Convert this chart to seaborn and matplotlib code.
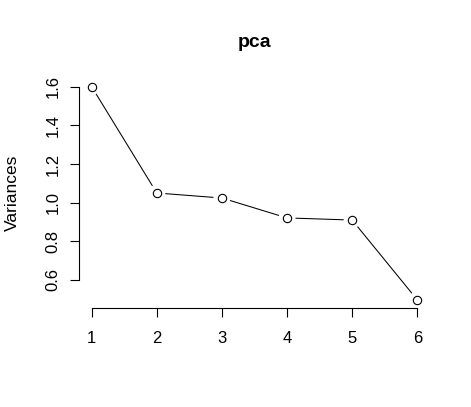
import matplotlib
matplotlib.use("Agg")
import matplotlib.pyplot as plt
import seaborn as sns
import pandas as pd

# ----------------------------------------------------------
# Data (scree plot of a PCA)
# ----------------------------------------------------------

components = [1, 2, 3, 4, 5, 6]
variances = [1.60, 1.05, 1.024, 0.921, 0.910, 0.497]
y_ticks = [0.6, 0.8, 1.0, 1.2, 1.4, 1.6]

df = pd.DataFrame({"component": components, "variance": variances})

# ----------------------------------------------------------
# Style
# ----------------------------------------------------------

sns.set_theme(style="ticks", rc={
    "text.color": "black",
    "axes.labelcolor": "black",
    "xtick.color": "black",
    "ytick.color": "black",
    "axes.edgecolor": "black",
})
plt.rcParams["font.family"] = ["Liberation Sans", "DejaVu Sans"]

fig = plt.figure(figsize=(4.71, 4.07), dpi=100)
ax = fig.add_axes([0.167, 0.2423, 0.7466, 0.5656])

# line, white gaps round the points, then open circles
sns.lineplot(data=df, x="component", y="variance", color="black",
             linewidth=0.75, ax=ax, zorder=2)
sns.scatterplot(data=df, x="component", y="variance", s=150, color="white",
                edgecolor="none", ax=ax, zorder=2.2)
sns.scatterplot(data=df, x="component", y="variance", s=36, color="white",
                edgecolor="black", linewidth=0.8, ax=ax, zorder=3)

# R-like 4% padding
xpad = 0.04 * (max(components) - min(components))
ypad = 0.04 * (max(variances) - min(variances))
ax.set_xlim(min(components) - xpad, max(components) + xpad)
ax.set_ylim(min(variances) - ypad, max(variances) + ypad)

ax.set_xticks(components)
ax.set_xticklabels([str(c) for c in components])
ax.set_yticks(y_ticks)
ax.set_yticklabels([f"{v:.1f}" for v in y_ticks])

for side in ["top", "right"]:
    ax.spines[side].set_visible(False)
ax.spines["left"].set_bounds(y_ticks[0], y_ticks[-1])
ax.spines["bottom"].set_bounds(components[0], components[-1])
for side in ["left", "bottom"]:
    ax.spines[side].set_linewidth(0.8)

ax.tick_params(direction="out", length=6.5, width=0.8, labelsize=12)
ax.tick_params(axis="x", pad=9.5)
ax.tick_params(axis="y", pad=6.5, labelrotation=90)
for lbl in ax.get_yticklabels():
    lbl.set_va("center")

ax.set_xlabel("")
ax.set_ylabel("")

fig.text(12 / 471, 1 - 193 / 407, "Variances", rotation=90,
         ha="center", va="center", fontsize=12.5)
fig.text(254.5 / 471, 1 - 46.7 / 407, "pca", ha="center", va="baseline",
         fontsize=14, fontweight="bold")

fig.savefig("out.png", dpi=100)
